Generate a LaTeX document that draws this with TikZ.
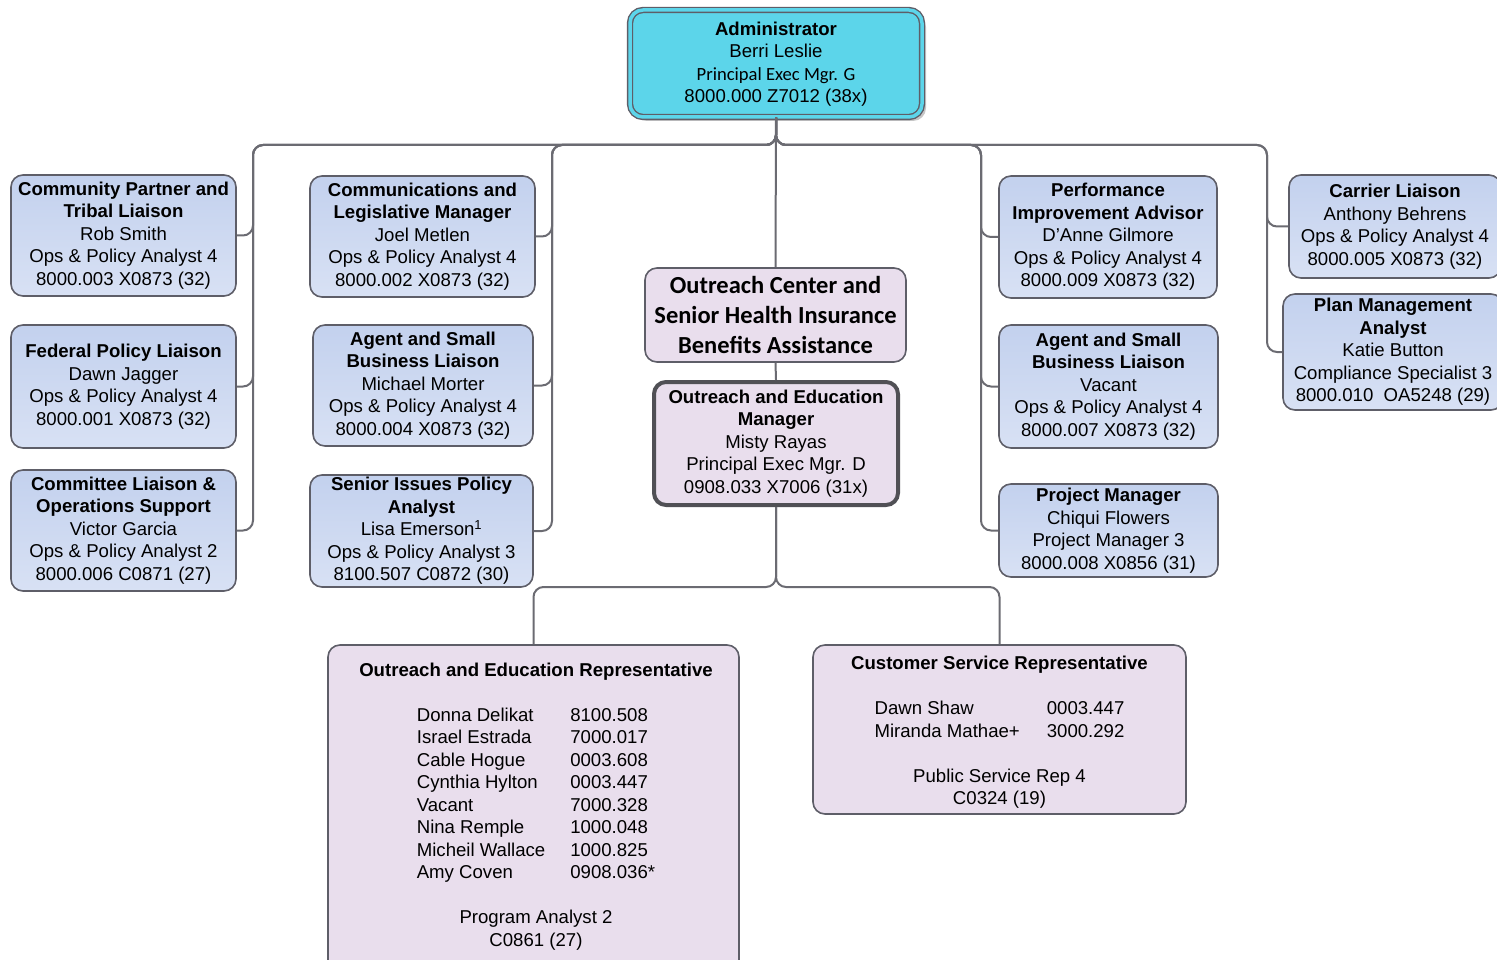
\documentclass[tikz,border=0pt]{standalone}
\usepackage{fontspec}
\setmainfont{Liberation Sans}
\newfontfamily\calfont{Carlito}
\usetikzlibrary{shadows}
\definecolor{boxline}{HTML}{5E5E68}
\definecolor{oemline}{HTML}{505055}
\definecolor{conncol}{HTML}{6B6B72}
\definecolor{bluetop}{HTML}{C3D1EE}
\definecolor{bluebot}{HTML}{D8E1F4}
\definecolor{lilac}{HTML}{E9DEED}
\definecolor{cyanfill}{HTML}{5CD5EA}
\tikzset{
  every node/.style={font=\fontsize{18.6}{22.5}\selectfont, inner sep=0pt, align=center},
  bluebox/.style={draw=boxline, line width=1.6pt, rounded corners=12pt, top color=bluetop, bottom color=bluebot},
  lilacbox/.style={draw=boxline, line width=1.6pt, rounded corners=12pt, fill=lilac},
  conn/.style={draw=conncol, line width=2pt, rounded corners=10pt},
}
\begin{document}
\begin{tikzpicture}[x=1pt,y=-1pt]
\useasboundingbox (0,0) rectangle (1497,960);

% top
\node[draw=boxline, line width=1.4pt, double=cyanfill, double distance=3.5pt, fill=cyanfill,
      rounded corners=13pt, minimum width=292pt, minimum height=107pt,
      drop shadow={shadow xshift=4pt, shadow yshift=-4pt, opacity=0.45}]
  (admin) at (776,63.5) {\raisebox{-1pt}[\height][\depth]{\begin{tabular}{@{}c@{}}\textbf{Administrator}\\Berri Leslie\\{\calfont Principal Exec Mgr. G}\\8000.000 Z7012 (38x)\end{tabular}}};

% column A
\node[bluebox, minimum width=225pt, minimum height=121pt] (cp) at (123.5,235.5)
  {\textbf{Community Partner and}\\\textbf{Tribal Liaison}\\Rob Smith\\Ops \& Policy Analyst 4\\8000.003 X0873 (32)};
\node[bluebox, minimum width=225pt, minimum height=123pt] (fed) at (123.5,386.5)
  {\textbf{Federal Policy Liaison}\\Dawn Jagger\\Ops \& Policy Analyst 4\\8000.001 X0873 (32)};
\node[bluebox, minimum width=225pt, minimum height=121pt] (comm) at (123.5,530.5)
  {\textbf{Committee Liaison \&}\\\textbf{Operations Support}\\Victor Garcia\\Ops \& Policy Analyst 2\\8000.006 C0871 (27)};

% column B
\node[bluebox, minimum width=225pt, minimum height=121pt] (cl) at (422.5,236.5)
  {\textbf{Communications and}\\\textbf{Legislative Manager}\\Joel Metlen\\Ops \& Policy Analyst 4\\8000.002 X0873 (32)};
\node[bluebox, minimum width=220pt, minimum height=121pt] (asbl) at (423,385.5)
  {\textbf{Agent and Small}\\\textbf{Business Liaison}\\Michael Morter\\Ops \& Policy Analyst 4\\8000.004 X0873 (32)};
\node[bluebox, minimum width=223pt, minimum height=112pt] (sip) at (421.5,531)
  {\textbf{Senior Issues Policy}\\\textbf{Analyst}\\Lisa Emerson\textsuperscript{1}\\Ops \& Policy Analyst 3\\8100.507 C0872 (30)};

% center
\node[lilacbox, minimum width=261pt, minimum height=94pt,
      font=\calfont\bfseries\fontsize{24.5}{30}\selectfont] (oc) at (775.5,315)
  {Outreach Center and\\Senior Health Insurance\\Benefits Assistance};
\node[draw=oemline, line width=4pt, rounded corners=12pt, fill=lilac,
      minimum width=244pt, minimum height=123pt] (oem) at (776,443.5)
  {\textbf{Outreach and Education}\\\textbf{Manager}\\Misty Rayas\\Principal Exec Mgr. D\\0908.033 X7006 (31x)};

% column C
\node[bluebox, minimum width=218pt, minimum height=122pt] (pia) at (1108,237)
  {\textbf{Performance}\\\textbf{Improvement Advisor}\\D’Anne Gilmore\\Ops \& Policy Analyst 4\\8000.009 X0873 (32)};
\node[bluebox, minimum width=219pt, minimum height=123pt] (asbr) at (1108.5,386.5)
  {\textbf{Agent and Small}\\\textbf{Business Liaison}\\Vacant\\Ops \& Policy Analyst 4\\8000.007 X0873 (32)};
\node[bluebox, minimum width=219pt, minimum height=93pt] (pm) at (1108.5,530.5)
  {\textbf{Project Manager}\\Chiqui Flowers\\Project Manager 3\\8000.008 X0856 (31)};

% column D
\node[bluebox, minimum width=212pt, minimum height=103pt] (car) at (1395,226.5)
  {\textbf{Carrier Liaison}\\Anthony Behrens\\Ops \& Policy Analyst 4\\8000.005 X0873 (32)};
\node[bluebox, minimum width=220pt, minimum height=116pt] (pma) at (1393,352)
  {\textbf{Plan Management}\\\textbf{Analyst}\\Katie Button\\Compliance Specialist 3\\8000.010\ \ OA5248 (29)};

% bottom
\node[lilacbox, minimum width=411pt, minimum height=340pt] (oer) at (533.5,815) {};
\node (oertxt) at (536,806.5) {%
  \begin{tabular}{@{}l@{\hspace{25pt}}l@{}}
  \multicolumn{2}{c}{\makebox[0pt]{\textbf{Outreach and Education Representative}}}\\
  \\
  Donna Delikat & 8100.508\\
  Israel Estrada & 7000.017\\
  Cable Hogue & 0003.608\\
  Cynthia Hylton & 0003.447\\
  Vacant & 7000.328\\
  Nina Remple & 1000.048\\
  Micheil Wallace & 1000.825\\
  Amy Coven & 0908.036*\\
  \\
  \multicolumn{2}{c}{\makebox[0pt]{Program Analyst 2}}\\
  \multicolumn{2}{c}{\makebox[0pt]{C0861 (27)}}
  \end{tabular}};
\node[lilacbox, minimum width=373pt, minimum height=169pt] (csr) at (999.5,729.5) {%
  \raisebox{-3pt}[\height][\depth]{\begin{tabular}{@{}l@{\hspace{27pt}}l@{}}
  \multicolumn{2}{c}{\makebox[0pt]{\textbf{Customer Service Representative}}}\\
  \\
  Dawn Shaw & 0003.447\\
  Miranda Mathae+ & 3000.292\\
  \\
  \multicolumn{2}{c}{\makebox[0pt]{Public Service Rep 4}}\\
  \multicolumn{2}{c}{\makebox[0pt]{C0324 (19)}}
  \end{tabular}}};

% bus coordinates
\coordinate (busA) at (253,145);
\coordinate (busB) at (552,145);
\coordinate (busC) at (981,145);
\coordinate (busD) at (1267,145);
\coordinate (fork) at (776,587);

% connectors
\draw[conn] (admin.south) |- (busA) |- (cp.east);
\draw[conn] (admin.south) |- (busA) |- (fed.east);
\draw[conn] (admin.south) |- (busA) |- (comm.east);
\draw[conn] (admin.south) |- (busB) |- (cl.east);
\draw[conn] (admin.south) |- (busB) |- (asbl.east);
\draw[conn] (admin.south) |- (busB) |- (sip.east);
\draw[conn] (admin.south) |- (busC) |- (pia.west);
\draw[conn] (admin.south) |- (busC) |- (asbr.west);
\draw[conn] (admin.south) |- (busC) |- (pm.west);
\draw[conn] (admin.south) |- (busD) |- (car.west);
\draw[conn] (admin.south) |- (busD) |- (pma.west);
\draw[conn] (admin.south) -- (oc.north);
\draw[conn] (oc.south) -- (oem.north);
\draw[conn] (oem.south) -- (fork) -| (oer.north);
\draw[conn] (oem.south) -- (fork) -| (csr.north);
\end{tikzpicture}
\end{document}
